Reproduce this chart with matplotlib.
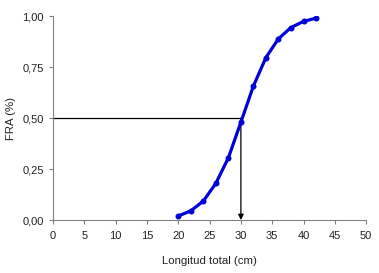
import numpy as np
import matplotlib.pyplot as plt
from matplotlib.ticker import FuncFormatter

plt.rcParams['font.family'] = ['Liberation Sans', 'DejaVu Sans']

longitud = [20, 22, 24, 26, 28, 30, 32, 34, 36, 38, 40, 42]
fra = [0.02, 0.045, 0.093, 0.18, 0.305, 0.48, 0.657, 0.797, 0.889, 0.944, 0.974, 0.99]
l50 = 30
x_ticks = [0, 5, 10, 15, 20, 25, 30, 35, 40, 45, 50]
y_ticks = [0, 0.25, 0.5, 0.75, 1.0]

fig = plt.figure(figsize=(3.79, 2.73), dpi=100)
ax = fig.add_axes([0.14, 0.194, 0.826, 0.747])

# guide lines to L50
ax.plot([0, l50], [0.5, 0.5], color='black', lw=0.9, zorder=2)
ax.annotate('', xy=(l50, 0), xytext=(l50, 0.5),
            arrowprops=dict(arrowstyle='-|>', color='black', lw=0.9,
                            mutation_scale=8, shrinkA=0, shrinkB=0), zorder=2)

ax.plot(longitud, fra, color='#0000d8', lw=2.3, marker='o', ms=3.3, zorder=3)

ax.set_xlim(0, 50)
ax.set_ylim(0, 1)
ax.set_xticks(x_ticks)
ax.set_yticks(y_ticks)
ax.yaxis.set_major_formatter(FuncFormatter(lambda v, p: f'{v:.2f}'.replace('.', ',')))
for s in ['top', 'right']:
    ax.spines[s].set_visible(False)
for s in ['left', 'bottom']:
    ax.spines[s].set_color('#808080')
    ax.spines[s].set_linewidth(0.8)
ax.tick_params(colors='#808080', labelcolor='#222222', labelsize=8, length=3, width=0.8)
ax.tick_params(axis='x', pad=5)
ax.set_xlabel('Longitud total (cm)', fontsize=8.2, color='#222222', labelpad=11)
ax.set_ylabel('FRA (%)', fontsize=8.2, color='#222222', labelpad=5)

fig.savefig('out.png', dpi=100)
